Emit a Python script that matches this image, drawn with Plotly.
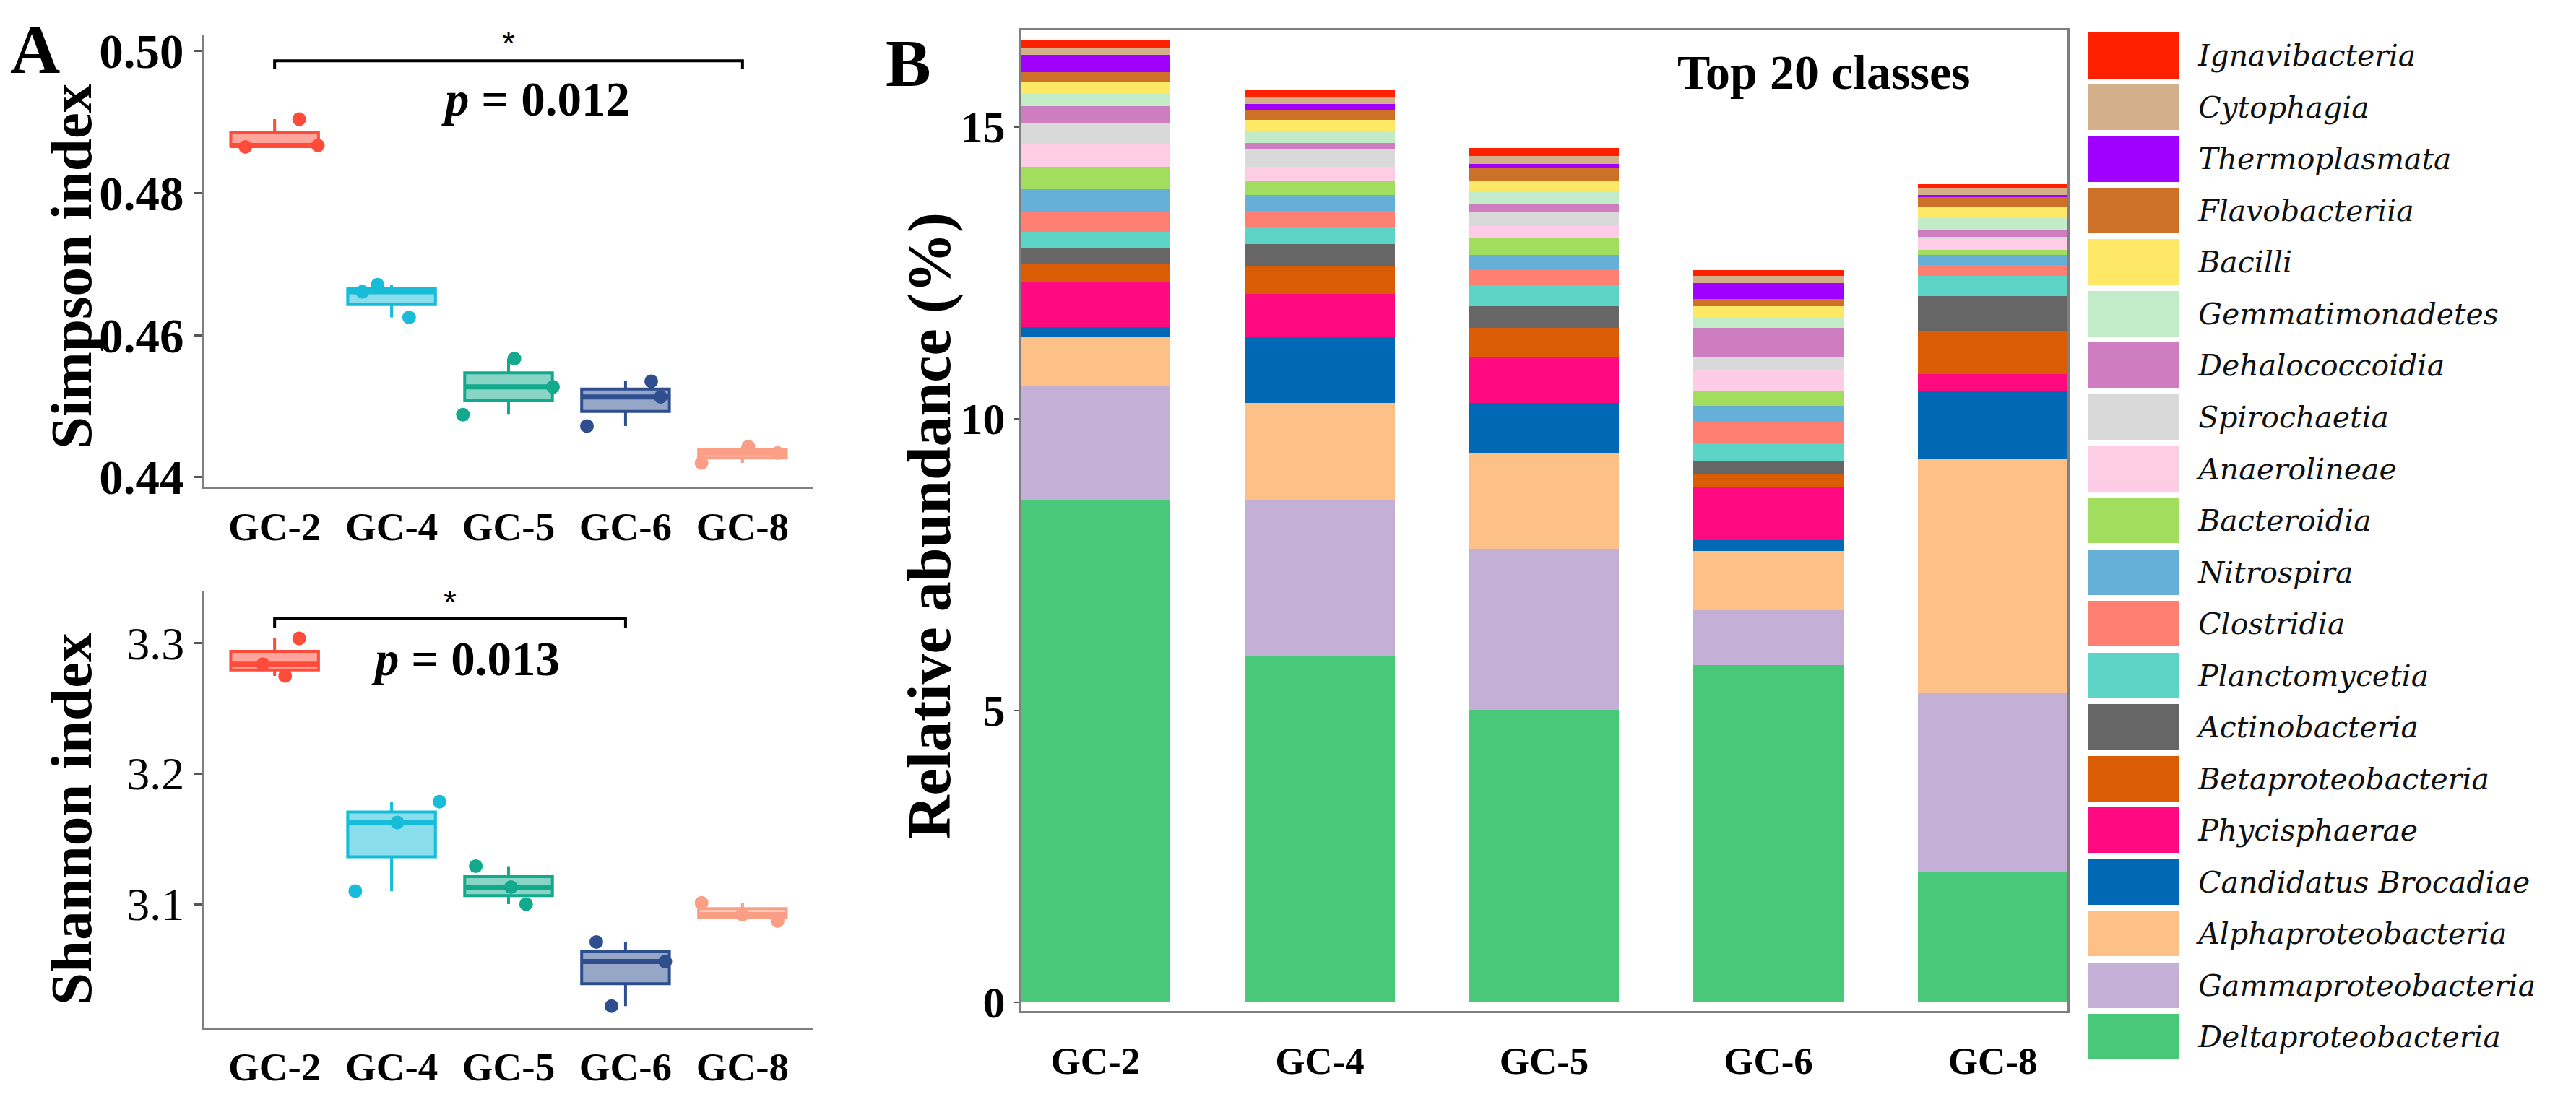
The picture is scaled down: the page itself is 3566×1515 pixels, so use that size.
import numpy as np
import plotly.graph_objects as go

# ---------------- data ----------------
groups = ["GC-2", "GC-4", "GC-5", "GC-6", "GC-8"]

simpson_gc2 = [0.4865, 0.4867, 0.4904]
simpson_gc4 = [0.4625, 0.4661, 0.4671]
simpson_gc5 = [0.4488, 0.4527, 0.4567]
simpson_gc6 = [0.4472, 0.4513, 0.4535]
simpson_gc8 = [0.4420, 0.4434, 0.4443]

shannon_gc2 = [3.2747, 3.2836, 3.3034]
shannon_gc4 = [3.1100, 3.1625, 3.1784]
shannon_gc5 = [3.100, 3.113, 3.129]
shannon_gc6 = [3.022, 3.056, 3.071]
shannon_gc8 = [3.087, 3.092, 3.101]

simpson_ticks = [0.44, 0.46, 0.48, 0.50]
shannon_ticks = [3.1, 3.2, 3.3]
abundance_ticks = [0, 5, 10, 15]

# classes, bottom of stack first
classes = ["Deltaproteobacteria", "Gammaproteobacteria", "Alphaproteobacteria",
           "Candidatus Brocadiae", "Phycisphaerae", "Betaproteobacteria",
           "Actinobacteria", "Planctomycetia", "Clostridia", "Nitrospira",
           "Bacteroidia", "Anaerolineae", "Spirochaetia", "Dehalococcoidia",
           "Gemmatimonadetes", "Bacilli", "Flavobacteriia", "Thermoplasmata",
           "Cytophagia", "Ignavibacteria"]

#                      GC-2  GC-4  GC-5  GC-6  GC-8
deltaproteobacteria = [8.60, 5.92, 5.01, 5.78, 2.24]
gammaproteobacteria = [1.97, 2.69, 2.76, 0.94, 3.07]
alphaproteobacteria = [0.83, 1.66, 1.63, 1.01, 4.00]
candidatus_brocadiae = [0.17, 1.12, 0.87, 0.18, 1.17]
phycisphaerae = [0.76, 0.75, 0.79, 0.91, 0.28]
betaproteobacteria = [0.31, 0.47, 0.50, 0.24, 0.75]
actinobacteria = [0.27, 0.38, 0.37, 0.22, 0.59]
planctomycetia = [0.29, 0.30, 0.35, 0.31, 0.34]
clostridia = [0.34, 0.27, 0.28, 0.36, 0.19]
nitrospira = [0.39, 0.27, 0.24, 0.27, 0.17]
bacteroidia = [0.38, 0.25, 0.30, 0.26, 0.09]
anaerolineae = [0.40, 0.24, 0.20, 0.36, 0.19]
spirochaetia = [0.36, 0.29, 0.24, 0.22, 0.03]
dehalococcoidia = [0.28, 0.11, 0.14, 0.50, 0.11]
gemmatimonadetes = [0.22, 0.21, 0.21, 0.16, 0.21]
bacilli = [0.19, 0.19, 0.18, 0.21, 0.19]
flavobacteriia = [0.17, 0.17, 0.22, 0.12, 0.17]
thermoplasmata = [0.30, 0.10, 0.08, 0.27, 0.04]
cytophagia = [0.12, 0.12, 0.13, 0.13, 0.13]
ignavibacteria = [0.14, 0.13, 0.14, 0.09, 0.06]

# ---------------- styles / positions ----------------
class_values = [deltaproteobacteria, gammaproteobacteria, alphaproteobacteria,
                candidatus_brocadiae, phycisphaerae, betaproteobacteria,
                actinobacteria, planctomycetia, clostridia, nitrospira,
                bacteroidia, anaerolineae, spirochaetia, dehalococcoidia,
                gemmatimonadetes, bacilli, flavobacteriia, thermoplasmata,
                cytophagia, ignavibacteria]
class_colors = ["#48C878", "#C4B0D6", "#FDC086", "#0068B4", "#FF0A80",
                "#DA5C05", "#666666", "#5DD5C6", "#FF8073", "#66AFD6",
                "#A1DD5F", "#FFCCE6", "#D9D9D9", "#CE7EC0", "#C2EBC8",
                "#FFE866", "#CD7028", "#A000FF", "#D4B08A", "#FF2000"]

group_colors = ["#FF4B3A", "#16BCD8", "#12A98C", "#2E4E8E", "#FA9E86"]
group_fills = ["rgba(255,75,58,0.5)", "rgba(22,188,216,0.5)", "rgba(18,169,140,0.5)",
               "rgba(46,78,142,0.5)", "rgba(250,158,134,0.5)"]
simpson_jitter = [[-0.25, 0.37, 0.21], [0.15, -0.25, -0.12], [-0.39, 0.38, 0.05],
                  [-0.33, 0.3, 0.22], [-0.35, 0.3, 0.05]]
shannon_jitter = [[0.09, -0.1, 0.21], [-0.31, 0.05, 0.41], [0.15, 0.02, -0.28],
                  [-0.12, 0.34, -0.25], [0.3, 0.0, -0.35]]

SERIF = "Liberation Serif"
AXC = "#7F7F7F"
W, H = 3566, 1515


def py(px):
    """pixel row (from top) -> paper fraction"""
    return 1 - px / H


def pxx(px):
    return px / W


fig = go.Figure()
BOXW = 0.75


def add_boxes(data, jitter, xa, ya):
    for i, vals in enumerate(data):
        pos = i + 1
        q1, med, q3 = np.percentile(vals, [25, 50, 75])
        fig.add_trace(go.Box(
            x=[pos], q1=[q1], median=[med], q3=[q3],
            lowerfence=[min(vals)], upperfence=[max(vals)],
            width=BOXW, whiskerwidth=0, fillcolor=group_fills[i],
            line=dict(color=group_colors[i], width=4),
            boxpoints=False, showlegend=False, xaxis=xa, yaxis=ya))
        # thicker median bar (ggplot style)
        fig.add_trace(go.Scatter(
            x=[pos - BOXW / 2, pos + BOXW / 2], y=[med, med], mode="lines",
            line=dict(color=group_colors[i], width=7), showlegend=False,
            hoverinfo="skip", xaxis=xa, yaxis=ya))
        fig.add_trace(go.Scatter(
            x=[pos + j for j in jitter[i]], y=vals, mode="markers",
            marker=dict(color=group_colors[i], size=19),
            showlegend=False, xaxis=xa, yaxis=ya, cliponaxis=False))


add_boxes([simpson_gc2, simpson_gc4, simpson_gc5, simpson_gc6, simpson_gc8],
          simpson_jitter, "x", "y")
add_boxes([shannon_gc2, shannon_gc4, shannon_gc5, shannon_gc6, shannon_gc8],
          shannon_jitter, "x2", "y2")

# stacked bars
xpos = list(range(1, len(groups) + 1))
for name, vals, col in zip(classes, class_values, class_colors):
    fig.add_trace(go.Bar(x=xpos, y=vals, name=name, width=0.667,
                         marker=dict(color=col, line=dict(width=0)),
                         showlegend=False, xaxis="x3", yaxis="y3"))

# legend built as a category axis of swatches
fig.add_trace(go.Bar(x=[1] * len(classes), y=classes, orientation="h",
                     marker=dict(color=class_colors, line=dict(width=0)),
                     showlegend=False, xaxis="x4", yaxis="y4"))

bold = dict(family=SERIF, weight="bold", color="black")

A_X = [pxx(283), pxx(1125)]
fig.update_layout(
    width=W, height=H, margin=dict(l=0, r=0, t=0, b=0),
    paper_bgcolor="white", plot_bgcolor="white", barmode="stack", bargap=0.115,
    font=dict(family=SERIF, color="black"),
    xaxis=dict(domain=A_X, range=[0.4, 5.6], anchor="y",
               tickvals=xpos, ticktext=groups, showline=True, linecolor=AXC,
               linewidth=3, ticks="", showgrid=False, zeroline=False,
               tickfont=dict(size=55, **bold), ticklabelstandoff=5),
    yaxis=dict(domain=[py(677), py(35)], range=[0.43861, 0.50228], anchor="x",
               tickvals=simpson_ticks, ticktext=["%.2f" % t for t in simpson_ticks],
               showline=True, linecolor=AXC, linewidth=3, ticks="outside",
               ticklen=12, tickwidth=3, tickcolor="#555555", showgrid=False,
               zeroline=False, tickfont=dict(size=67, **bold)),
    xaxis2=dict(domain=A_X, range=[0.4, 5.6], anchor="y2",
                tickvals=xpos, ticktext=groups, showline=True, linecolor=AXC,
                linewidth=3, ticks="", showgrid=False, zeroline=False,
                tickfont=dict(size=55, **bold), ticklabelstandoff=3),
    yaxis2=dict(domain=[py(1445), py(825)], range=[3.0051, 3.3394], anchor="x2",
                tickvals=shannon_ticks, ticktext=["%.1f" % t for t in shannon_ticks],
                showline=True, linecolor=AXC, linewidth=3, ticks="outside",
                ticklen=12, tickwidth=3, tickcolor="#555555", showgrid=False,
                zeroline=False, tickfont=dict(size=64, family=SERIF, color="black")),
    xaxis3=dict(domain=[pxx(1413), pxx(2862)], range=[0.667, 5.333], anchor="y3",
                tickvals=xpos, ticktext=groups, showline=True, mirror=True,
                linecolor=AXC, linewidth=3, ticks="", showgrid=False,
                zeroline=False, tickfont=dict(size=53, **bold), ticklabelstandoff=20),
    yaxis3=dict(domain=[py(1421), py(29)], range=[-0.157, 16.65], anchor="x3",
                tickvals=abundance_ticks, showline=True, mirror=True,
                linecolor=AXC, linewidth=3, ticks="outside", ticklen=6,
                tickwidth=2, tickcolor="#555555", showgrid=False, zeroline=False,
                tickfont=dict(size=62, **bold)),
    xaxis4=dict(domain=[pxx(2890), pxx(3016)], range=[0, 1], anchor="y4", visible=False),
    yaxis4=dict(domain=[py(1494), py(28)], anchor="x4", side="right",
                type="category", categoryorder="array", categoryarray=classes,
                showline=False, showgrid=False, ticks="outside", ticklen=18,
                tickcolor="rgba(0,0,0,0)",
                tickfont=dict(size=41, family="DejaVu Serif", style="italic",
                              color="#111111")),
)

# significance brackets
fig.add_shape(type="path", xref="x", yref="y",
              path="M 1,0.49752 L 1,0.49861 L 5,0.49861 L 5,0.49752",
              line=dict(color="black", width=4))
fig.add_shape(type="path", xref="x2", yref="y2",
              path="M 1,3.3113 L 1,3.3189 L 4,3.3189 L 4,3.3113",
              line=dict(color="black", width=4))

C = dict(showarrow=False, xanchor="center", yanchor="middle")
ann = []
ann.append(dict(x=3, y=0.50109, xref="x", yref="y", text="*",
                font=dict(size=46, family="Liberation Sans", color="black"), **C))
ann.append(dict(x=3.23, y=0.4932, xref="x", yref="y", text="<i>p</i> = 0.012",
                font=dict(size=67, **bold), **C))
ann.append(dict(x=2.5, y=3.331, xref="x2", yref="y2", text="*",
                font=dict(size=46, family="Liberation Sans", color="black"), **C))
ann.append(dict(x=2.63, y=3.288, xref="x2", yref="y2", text="<i>p</i> = 0.013",
                font=dict(size=67, **bold), **C))
# axis titles
ann.append(dict(x=pxx(99), y=py(364), xref="paper", yref="paper", text="Simpson index",
                textangle=-90, font=dict(size=81, **bold), **C))
ann.append(dict(x=pxx(99), y=py(1148), xref="paper", yref="paper", text="Shannon index",
                textangle=-90, font=dict(size=81, **bold), **C))
ann.append(dict(x=pxx(1287), y=py(732), xref="paper", yref="paper",
                text="Relative abundance (%)", textangle=-90,
                font=dict(size=84, **bold), **C))
ann.append(dict(x=pxx(2525), y=py(88), xref="paper", yref="paper", text="Top 20 classes",
                font=dict(size=68, **bold), **C))
# panel letters
ann.append(dict(x=pxx(48), y=py(56), xref="paper", yref="paper", text="A",
                font=dict(size=96, **bold), **C))
ann.append(dict(x=pxx(1257), y=py(75), xref="paper", yref="paper", text="B",
                font=dict(size=94, **bold), **C))
fig.update_layout(annotations=ann)

fig.write_html("out.html", config={"displayModeBar": False},
               post_script="document.body.style.margin='0px';")
